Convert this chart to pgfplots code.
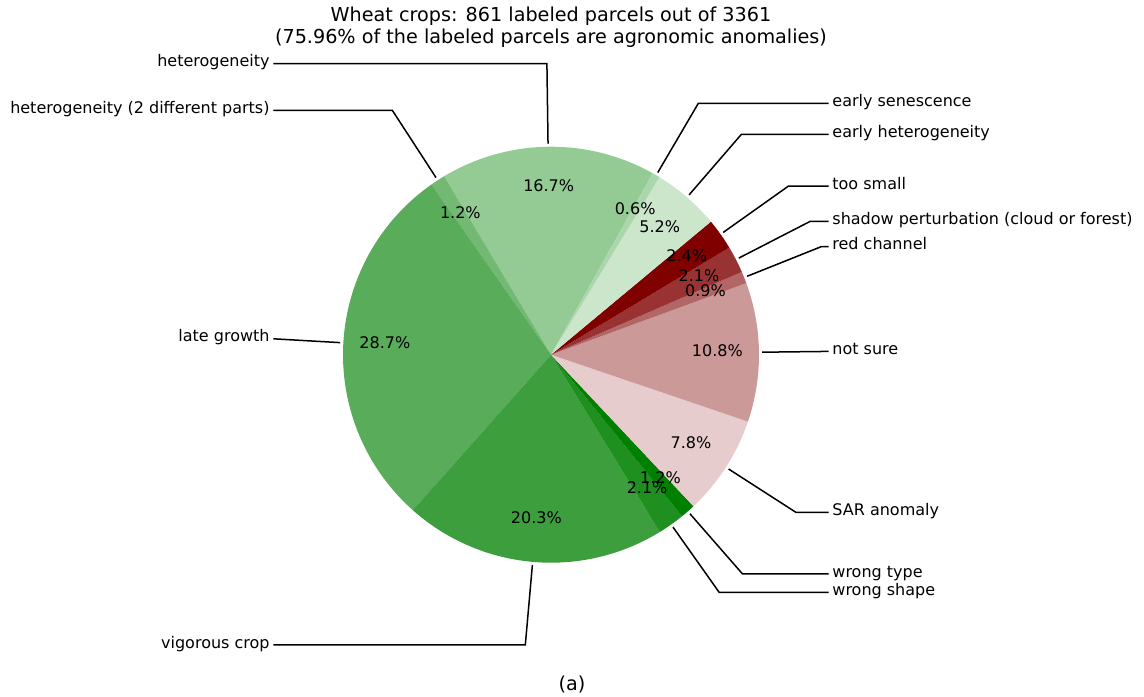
\documentclass[border=0pt]{standalone}
\usepackage{pgfplots}
\pgfplotsset{compat=1.18}
\usepackage{pgfplotstable}
\usepackage{fontspec}
\setmainfont{DejaVu Sans}
\definecolor{G}{RGB}{0,128,0}
\definecolor{Rd}{RGB}{128,0,0}

% counts out of 861 labeled parcels, counter-clockwise from 60.7 deg
\pgfplotstableread[col sep=comma]{
n,col,lab
144,G!42!white,heterogeneity
10,G!55!white,heterogeneity (2 different parts)
247,G!65!white,late growth
175,G!76!white,vigorous crop
18,G!88!white,wrong shape
10,G!100!white,wrong type
67,Rd!20!white,SAR anomaly
93,Rd!40!white,not sure
8,Rd!60!white,red channel
18,Rd!80!white,shadow perturbation (cloud or forest)
21,Rd!100!white,too small
45,G!20!white,early heterogeneity
5,G!33!white,early senescence
}\piedata

\tikzset{lbl/.style={font=\fontsize{16}{19}\selectfont, inner sep=0pt, text height=0.86em, text depth=0.2em}}

\begin{document}
\begin{tikzpicture}
\begin{axis}[at={(0,0)}, anchor=south west, width=1144pt, height=696pt, scale only axis,
  xmin=-2.649, xmax=2.851, ymin=-1.6409, ymax=1.7053, hide axis, clip=false]
\def\mywa{60.7}
\pgfplotsforeachungrouped \rowi in {0,...,12}{%
  \pgfplotstablegetelem{\rowi}{n}\of\piedata \let\mywn\pgfplotsretval
  \pgfplotstablegetelem{\rowi}{col}\of\piedata \let\mywcol\pgfplotsretval
  \pgfmathsetmacro\mywb{\mywa+\mywn/861*360}%
  \edef\mydoit{\noexpand\addplot[draw=none, fill=\mywcol, mark=none, domain=\mywa:\mywb, samples=60] ({cos(x)},{sin(x)}) -- (axis cs:0,0) -- cycle;}%
  \mydoit
  \let\mywa\mywb
}
\def\mywa{60.7}
\pgfplotsforeachungrouped \rowi in {0,...,12}{%
  \pgfplotstablegetelem{\rowi}{n}\of\piedata \let\mywn\pgfplotsretval
  \pgfplotstablegetelem{\rowi}{lab}\of\piedata \let\mywlab\pgfplotsretval
  \pgfmathsetmacro\mywb{\mywa+\mywn/861*360}%
  \pgfmathsetmacro\mywm{(\mywa+\mywb)/2}%
  \pgfmathsetmacro\mywc{cos(\mywm)}%
  \pgfmathsetmacro\myws{sin(\mywm)}%
  \pgfmathtruncatemacro\mysg{2*(\mywc>0)-1}%
  \pgfmathsetmacro\mypx{1.0154*\mywc}%
  \pgfmathsetmacro\mypy{1.0154*\myws}%
  \pgfmathsetmacro\mycx{1.4*\mywc}%
  \pgfmathsetmacro\mycy{1.4*\myws}%
  \pgfmathsetmacro\myex{\mysg*1.3346}%
  \pgfmathtruncatemacro\myfar{abs(\mycx)>1.3346}%
  \ifnum\myfar=1
    \pgfmathsetmacro\myey{\myex*\myws/\mywc}%
    \edef\mydoit{\noexpand\addplot[black, line width=1.5pt, mark=none] coordinates {(\mypx,\mypy) (\myex,\myey)};}%
  \else
    \edef\mydoit{\noexpand\addplot[black, line width=1.5pt, mark=none] coordinates {(\mypx,\mypy) (\mycx,\mycy) (\myex,\mycy)};}%
  \fi
  \mydoit
  \pgfmathsetmacro\mytx{\mysg*1.352}%
  \ifnum\mysg<0 \def\myanc{east}\else\def\myanc{west}\fi
  \edef\mydoit{\noexpand\node[lbl, anchor=\myanc] at (axis cs:\mytx,\mycy) {\mywlab};}%
  \mydoit
  \pgfmathtruncatemacro\mytn{round(\mywn/861*1000)}%
  \pgfmathtruncatemacro\myip{\mytn/10}%
  \pgfmathtruncatemacro\myfp{\mytn-10*\myip}%
  \pgfmathsetmacro\myqx{0.8*\mywc}%
  \pgfmathsetmacro\myqy{0.8*\myws}%
  \edef\mydoit{\noexpand\node[lbl] at (axis cs:\myqx,\myqy) {\myip.\myfp\noexpand\%};}%
  \mydoit
  \let\mywa\mywb
}
\node[anchor=base, inner sep=0pt, font=\fontsize{19.2}{23}\selectfont] at (axis cs:0,1.6043) {Wheat crops: 861 labeled parcels out of 3361};
\node[anchor=base, inner sep=0pt, font=\fontsize{19.2}{23}\selectfont] at (axis cs:0,1.4966) {(75.96\% of the labeled parcels are agronomic anomalies)};
\node[anchor=base, inner sep=0pt, font=\fontsize{19.2}{23}\selectfont] at (axis cs:0.101,-1.612) {(a)};
\end{axis}
\pgfresetboundingbox
\path (current axis.south west) rectangle (current axis.north east);
\end{tikzpicture}
\end{document}
